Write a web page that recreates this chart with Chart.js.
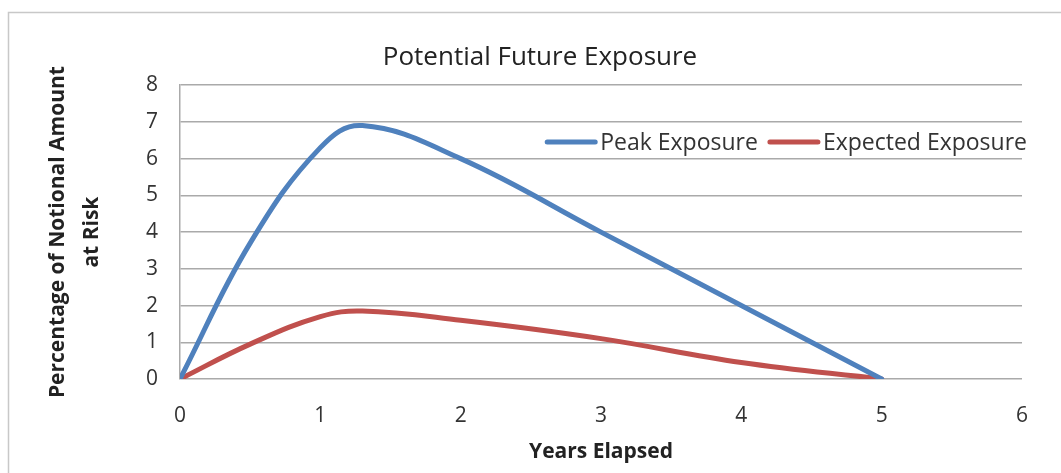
<!DOCTYPE html>
<html>
<head>
<meta charset="utf-8">
<script src="https://cdn.jsdelivr.net/npm/chart.js@4.4.1/dist/chart.umd.min.js"></script>
<style>
  html, body { margin: 0; padding: 0; background: #fff; }
  #wrap { width: 1061px; height: 473px; position: relative; }
</style>
</head>
<body>
<div id="wrap"><canvas id="c" width="1061" height="473"></canvas></div>
<script>
const chartTitle = "Potential Future Exposure";
const xTitle = "Years Elapsed";
const yTitle = ["Percentage of Notional Amount", "at Risk"];
const seriesNames = ["Peak Exposure", "Expected Exposure"];
const yearsPeak = [0, 0.5, 1, 1.3, 2, 3, 4, 5];
const peakValues = [0, 3.7, 6.3, 6.9, 6.0, 4.0, 2.0, 0];
const yearsExpected = [0, 0.5, 1, 1.3, 2, 3, 4, 5];
const expectedValues = [0, 0.95, 1.7, 1.85, 1.6, 1.1, 0.45, 0];
const xTicks = [0, 1, 2, 3, 4, 5, 6];
const yTicks = [0, 1, 2, 3, 4, 5, 6, 7, 8];

const FONT = "'Open Sans', 'Liberation Sans', sans-serif";
const colors = ["#4F81BD", "#C0504D"];

const framePlugin = {
  id: 'frame',
  beforeDraw(chart) {
    const ctx = chart.ctx;
    ctx.save();
    ctx.fillStyle = '#fff';
    ctx.fillRect(0, 0, chart.width, chart.height);
    ctx.strokeStyle = '#c8c8c8';
    ctx.lineWidth = 1.5;
    ctx.strokeRect(8.5, 12.5, chart.width + 20, chart.height + 20);
    ctx.restore();
  }
};

const titleShiftPlugin = {
  id: 'titleShift',
  afterLayout(chart) {
    if (chart.titleBlock) { chart.titleBlock.left += 58; }
  }
};

const legendPlugin = {
  id: 'insideLegend',
  afterDraw(chart) {
    const ctx = chart.ctx;
    const area = chart.chartArea;
    ctx.save();
    ctx.font = "23px " + FONT;
    ctx.textBaseline = 'middle';
    const sample = 52, gapAfterSample = 3, gapBetween = 10;
    const items = chart.data.datasets.map(d => ({label: d.label, color: d.borderColor, w: ctx.measureText(d.label).width}));
    let total = 0;
    items.forEach((it, i) => { total += sample + gapAfterSample + it.w + (i < items.length - 1 ? gapBetween : 0); });
    let x = area.right + 5 - total;
    const y = chart.scales.y.getPixelForValue(6.45);
    items.forEach(it => {
      ctx.strokeStyle = it.color;
      ctx.lineWidth = 5;
      ctx.lineCap = 'round';
      ctx.beginPath();
      ctx.moveTo(x + 2, y);
      ctx.lineTo(x + sample - 2, y);
      ctx.stroke();
      x += sample + gapAfterSample;
      ctx.fillStyle = '#333';
      ctx.fillText(it.label, x, y + 1);
      x += it.w + gapBetween;
    });
    ctx.restore();
  }
};

new Chart(document.getElementById('c'), {
  type: 'line',
  data: {
    datasets: [
      {
        label: seriesNames[0],
        data: yearsPeak.map((x, i) => ({x: x, y: peakValues[i]})),
        borderColor: colors[0],
        backgroundColor: colors[0],
        borderWidth: 5,
        pointRadius: 0,
        tension: 0.4,
        borderCapStyle: 'round'
      },
      {
        label: seriesNames[1],
        data: yearsExpected.map((x, i) => ({x: x, y: expectedValues[i]})),
        borderColor: colors[1],
        backgroundColor: colors[1],
        borderWidth: 5,
        pointRadius: 0,
        tension: 0.4,
        borderCapStyle: 'round'
      }
    ]
  },
  options: {
    responsive: false,
    animation: false,
    events: [],
    layout: { padding: { left: 0, right: 39, top: 0, bottom: 0 } },
    plugins: {
      legend: { display: false },
      tooltip: { enabled: false },
      title: {
        display: true,
        text: chartTitle,
        color: '#222',
        font: { family: FONT, size: 26, weight: 'normal', lineHeight: 1.2 },
        padding: { top: 42, bottom: 12 }
      }
    },
    scales: {
      x: {
        type: 'linear',
        min: xTicks[0],
        max: xTicks[xTicks.length - 1],
        afterBuildTicks(scale) { scale.ticks = xTicks.map(v => ({value: v})); },
        afterFit(scale) { scale.height = 94; },
        grid: { display: false, drawTicks: false },
        border: { display: false },
        ticks: { color: '#333', padding: 24, font: { family: FONT, size: 21 } },
        title: {
          display: true,
          text: xTitle,
          color: '#222',
          font: { family: FONT, size: 21, weight: 'bold', lineHeight: 1.2 },
          padding: { top: 0, bottom: 8 }
        }
      },
      y: {
        type: 'linear',
        min: yTicks[0],
        max: yTicks[yTicks.length - 1],
        afterBuildTicks(scale) { scale.ticks = yTicks.map(v => ({value: v})); },
        afterFit(scale) { scale.width = 180; },
        grid: { color: '#aaaaaa', lineWidth: 1.5, drawTicks: false },
        border: { display: true, color: '#aaaaaa', width: 1.5 },
        ticks: { color: '#333', padding: 22, font: { family: FONT, size: 21 } },
        title: {
          display: true,
          text: yTitle,
          color: '#222',
          font: { family: FONT, size: 21, weight: 'bold', lineHeight: '34px' },
          padding: { top: 41, bottom: 0 }
        }
      }
    }
  },
  plugins: [framePlugin, titleShiftPlugin, legendPlugin]
});
</script>
</body>
</html>
